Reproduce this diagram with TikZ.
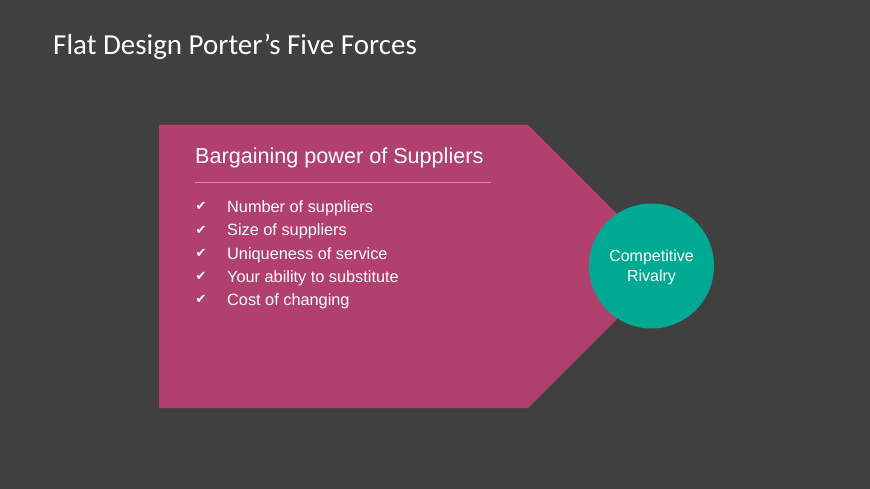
\documentclass[tikz,border=0pt]{standalone}
\usepackage{fontspec}
\setmainfont{Liberation Sans}
\newfontfamily\titlefont{Carlito}
\newfontfamily\symfont{DejaVu Sans}
\usepackage{xcolor}
\definecolor{slidebg}{HTML}{404040}
\definecolor{forcepink}{HTML}{B1406F}
\definecolor{rivalteal}{HTML}{00AA92}
\definecolor{rulepink}{HTML}{D68BB0}

\begin{document}
\begin{tikzpicture}[
        x=1pt, y=-1pt,
        txt/.style = {text=white, inner sep=0pt, anchor=base west},
        tick/.style = {text=white, inner sep=0pt, anchor=base west, font=\symfont\fontsize{13}{13}\selectfont},
        item/.style = {txt, font=\fontsize{16.3}{18}\selectfont},
        rival/.style = {circle, fill=rivalteal, minimum size=125pt, inner sep=0pt, text=white,
                        align=center, text depth=0pt, font=\fontsize{16}{20}\selectfont}
    ]
        \useasboundingbox[fill=slidebg] (0,0) rectangle (870,489);
        \node[txt, font=\titlefont\fontsize{29}{32}\selectfont] (title) at (53,55) {Flat Design Porter’s Five Forces};
        % arrow shaped box
        \fill[forcepink] (159,125) -- (528,125) -- (669.5,266.5) -- (528,408) -- (159,408) -- cycle;
        \node[txt, font=\fontsize{21.6}{24}\selectfont] (head) at (195,164) {Bargaining power of Suppliers};
        \coordinate (ruleL) at (195,182);
        \coordinate (ruleR) at (491,182);
        \draw[rulepink, line width=0.6pt] (ruleL) -- (ruleR);
        \foreach \txt [count=\i] in {Number of suppliers, Size of suppliers, Uniqueness of service,
                                     Your ability to substitute, Cost of changing} {
            \node[tick] (tick\i) at (195.5,{188+23*\i}) {✔};
            \node[item] (item\i) at (227,{190+23*\i}) {\txt};
        }
        \node[rival] (rivalry) at (651.5,266) {Competitive\\Rivalry};
    \end{tikzpicture}
\end{document}
